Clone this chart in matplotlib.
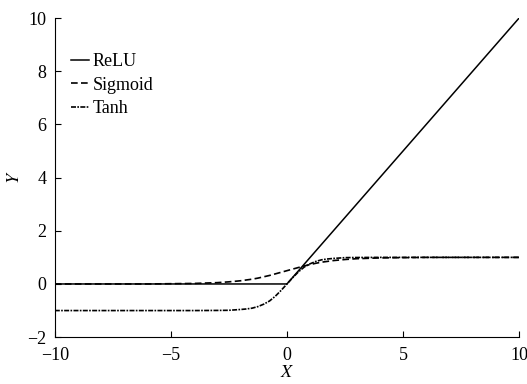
import matplotlib.pyplot as plt

plt.rcParams['font.family'] = ['Liberation Serif', 'DejaVu Serif']
plt.rcParams['mathtext.fontset'] = 'stix'

# sample points
x = [-10, -8, -6, -5, -4, -3, -2.5, -2, -1.75, -1.5, -1.25, -1, -0.75, -0.5, -0.25, 0,
     0.25, 0.5, 0.75, 1, 1.25, 1.5, 1.75, 2, 2.5, 3, 4, 5, 6, 8, 10]
relu = [0, 0, 0, 0, 0, 0, 0, 0, 0, 0, 0, 0, 0, 0, 0, 0,
        0.25, 0.5, 0.75, 1, 1.25, 1.5, 1.75, 2, 2.5, 3, 4, 5, 6, 8, 10]
sigmoid = [0.0, 0.0, 0.0, 0.01, 0.02, 0.05, 0.08, 0.12, 0.15, 0.18, 0.22, 0.27, 0.32, 0.38, 0.44, 0.5,
           0.56, 0.62, 0.68, 0.73, 0.78, 0.82, 0.85, 0.88, 0.92, 0.95, 0.98, 0.99, 1.0, 1.0, 1.0]
tanh = [-1, -1, -1, -1, -1.0, -0.995, -0.99, -0.96, -0.94, -0.91, -0.85, -0.76, -0.64, -0.46, -0.24, 0,
        0.24, 0.46, 0.64, 0.76, 0.85, 0.91, 0.94, 0.96, 0.99, 0.995, 1.0, 1, 1, 1, 1]

fig = plt.figure(figsize=(5.27, 3.84), dpi=100)
ax = fig.add_axes([0.104, 0.122, 0.881, 0.831])

ax.plot(x, relu, color='black', lw=1.1, label='ReLU')
ax.plot(x, sigmoid, color='black', lw=1.2, ls=(0, (4, 2)), label='Sigmoid')
ax.plot(x, tanh, color='black', lw=1.2, ls=(0, (3, 0.8, 1, 0.8)), label='Tanh')

ax.set_xlim(-10, 10)
ax.set_ylim(-2, 10)
ax.set_xticks([-10, -5, 0, 5, 10])
ax.set_yticks([-2, 0, 2, 4, 6, 8, 10])
ax.spines['top'].set_visible(False)
ax.spines['right'].set_visible(False)
ax.tick_params(direction='in', length=4, labelsize=13)
ax.tick_params(axis='x', pad=7)
ax.tick_params(axis='y', pad=6)
ax.set_xlabel('$X$', fontsize=13, labelpad=0)
ax.set_ylabel('$Y$', fontsize=13, labelpad=3)

ax.legend(loc='upper left', frameon=False, fontsize=13, handlelength=1.0,
          handletextpad=0.2, labelspacing=0.35, bbox_to_anchor=(0.0, 0.94))

fig.savefig('out.png')
